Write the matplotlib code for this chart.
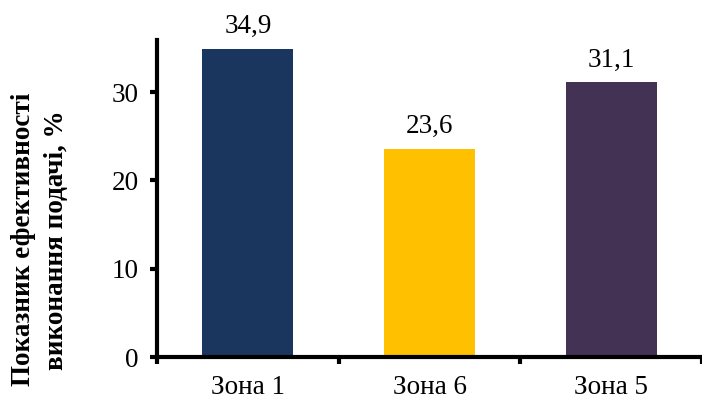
"""Показник ефективності виконання подачі за зонами."""

import matplotlib
matplotlib.use('Agg')
import matplotlib.pyplot as plt
import numpy as np

ZONES = ['Зона 1', 'Зона 6', 'Зона 5']
VALUES = [34.9, 23.6, 31.1]
VALUE_LABELS = ['34,9', '23,6', '31,1']
COLORS = ['#1b365e', '#ffc000', '#433254']

plt.rcParams['font.family'] = ['Liberation Serif', 'DejaVu Serif']
plt.rcParams['font.size'] = 19.5


def main() -> None:
    fig = plt.figure(figsize=(7.02, 4.03), dpi=100)
    ax = fig.add_axes([0.2237, 0.1141, 0.7763, 0.7866])

    x = np.arange(len(ZONES))
    ax.bar(x, VALUES, width=0.5, color=COLORS)

    for xi, val, lab in zip(x, VALUES, VALUE_LABELS):
        ax.annotate(lab, (xi, val), xytext=(0, 7), textcoords='offset points',
                    ha='center', va='bottom')

    ax.set_xlim(-0.5, len(ZONES) - 0.5)
    ax.set_ylim(0, 35.9)
    ax.set_yticks([0, 10, 20, 30])
    ax.set_xticks(x)
    ax.set_xticklabels(ZONES)
    ax.set_xticks(np.arange(len(ZONES) + 1) - 0.5, minor=True)

    ax.tick_params(axis='x', which='major', length=0, pad=13)
    ax.tick_params(axis='x', which='minor', length=5, width=3, direction='out')
    ax.tick_params(axis='y', length=5, width=3, direction='out', pad=8)

    for side in ('top', 'right'):
        ax.spines[side].set_visible(False)
    for side in ('left', 'bottom'):
        ax.spines[side].set_linewidth(3)

    fig.text(0.057, 0.405, 'Показник ефективності\nвиконання подачі, %',
             rotation=90, ha='center', va='center', multialignment='center',
             fontweight='bold', linespacing=1.4)

    fig.savefig('out.png', dpi=100)
    plt.close(fig)


if __name__ == '__main__':
    main()
